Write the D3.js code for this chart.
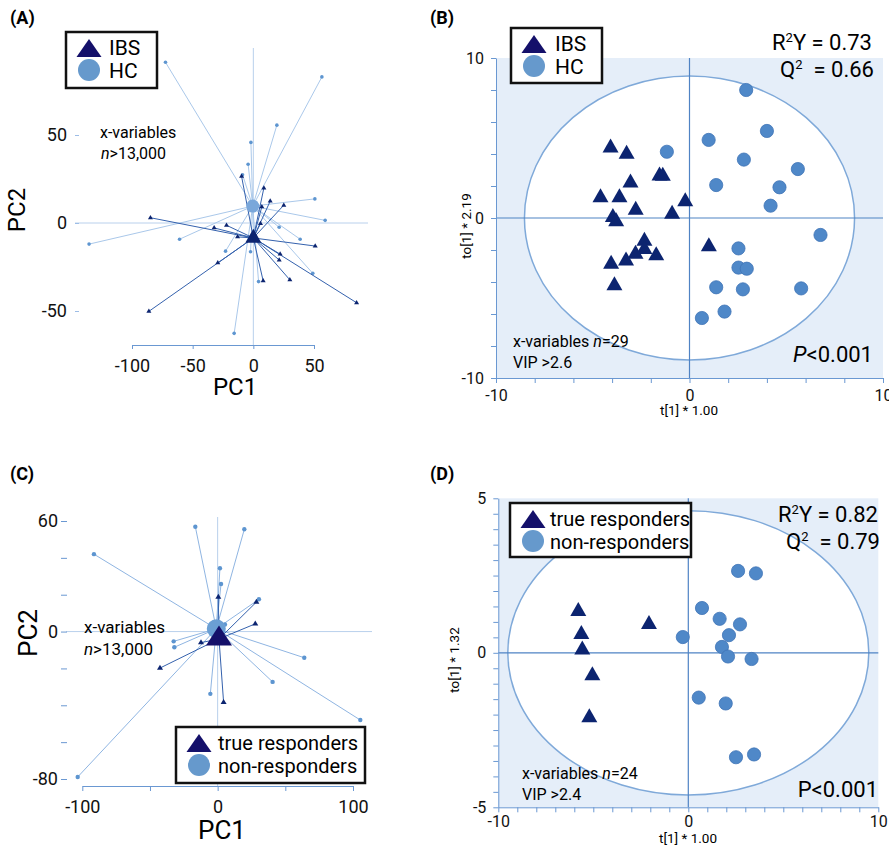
<!DOCTYPE html>
<html>
<head>
<meta charset="utf-8">
<script src="https://cdn.jsdelivr.net/npm/d3@7"></script>
<style>
  body { margin: 0; background: #fff; }
  svg { font-family: Roboto, "Noto Sans", sans-serif; }
</style>
</head>
<body>
<div id="wrapper"></div>
<script>
// ---- panel A: PCA scores, IBS vs HC (x = PC1, y = PC2)
const ibsA = [[-9.7,26.5],[8.7,19.9],[13.9,12.4],[25.1,10.1],[7,9.2],[5.9,-0.4],[-84.8,3],
  [-22.1,-1.3],[-32.3,-2.8],[-13,-7.9],[51,-13.1],[22.1,-17.7],[21.3,-21],[-29.3,-22.7],
  [30.1,-32.3],[8.1,-32.9],[85.1,-45.3],[-86.1,-50.2]]
const hcA = [[-72.4,91.3],[56.5,83],[19.4,55.6],[-2,45.8],[-4.3,33.4],[-8.9,27.4],[50.7,13.7],
  [59.2,1.5],[21.3,-2.4],[38.6,-9.2],[-60.8,-9.2],[-135.4,-12],[-22.9,-16],[-2.3,-16.3],
  [49,-28.6],[4.3,-33.3],[-15.8,-62.7]]
const ibsCentA = [0, -8.5]
const hcCentA = [-0.5, 9.6]

// ---- panel B: OPLS-DA scores, IBS vs HC (x = t[1], y = to[1])
const ibsB = [[-4.08,4.39],[-3.25,4.0],[-3.05,2.2],[-1.55,2.64],[-1.38,2.62],[-4.6,1.27],
  [-3.62,1.27],[-0.22,1.02],[-2.78,0.5],[-0.9,0.25],[-3.96,0.04],[-3.79,-0.23],[-2.33,-1.44],
  [-2.33,-1.96],[-2.79,-2.25],[-1.72,-2.35],[-4.05,-2.88],[-3.28,-2.67],[-3.88,-4.23],[1.0,-1.79]]
const hcB = [[2.93,8.0],[4.0,5.44],[0.99,4.88],[-1.17,4.14],[2.81,3.65],[5.6,3.06],[1.38,2.06],
  [4.65,1.92],[4.19,0.77],[6.77,-1.06],[2.53,-1.9],[2.53,-3.1],[2.96,-3.17],[1.38,-4.33],
  [2.76,-4.46],[5.77,-4.4],[1.81,-5.85],[0.64,-6.25]]
const ellipseB = [8.53, 8.87]

// ---- panel C: PCA scores, true responders vs non-responders
const respC = [[0.5,18.7],[28.6,16],[27.8,4.2],[-12.3,-6],[-42.6,-19.8],[4.4,-38.4]]
const nonC = [[-16.5,56.9],[19.7,55.5],[-91.4,42],[1.7,34.4],[2.5,25.8],[30.5,17.5],[5.4,3.8],
  [-32.5,-5.3],[-32,-8.5],[64,-14.2],[40.6,-27.3],[-5.4,-33.8],[105.4,-48],[-103.4,-78.9]]
const respCentC = [1, -4]
const nonCentC = [-1, 1.5]

// ---- panel D: OPLS-DA scores, true responders vs non-responders
const respD = [[-5.79,1.34],[-5.63,0.6],[-5.58,0.1],[-5.05,-0.74],[-5.21,-2.1],[-2.07,0.92]]
const nonD = [[2.62,2.65],[3.56,2.57],[0.72,1.45],[1.65,1.1],[2.72,0.92],[-0.29,0.51],[2.14,0.57],
  [1.77,0.19],[2.09,-0.12],[3.33,-0.2],[0.55,-1.45],[1.97,-1.64],[2.51,-3.38],[3.46,-3.29]]
const ellipseD = [9.5, 4.6]

// tick labels
const ticksAx = [-100, -50, 0, 50]
const ticksAy = [-50, 0, 50]
const ticksCx = [-100, -50, 0, 50, 100]
const labelsCx = [-100, 0, 100]
const ticksCy = d3.range(-80, 61, 20)
const labelsCy = [60, 0, -80]

const navy = "#0c2470"
const navyDark = "#14106a"
const dotBlue = "#4f88c8"
const pcaLight = "#aac8ea"
const pcaDark = "#3461ad"
const axisBlue = "#6a98d2"

const svg = d3.select("#wrapper")
  .append("svg")
    .attr("width", 889)
    .attr("height", 848)

// triangle centred on its centroid
const tri = (cx, cy, w, h) =>
  `M${cx - w / 2},${cy + h / 3}L${cx + w / 2},${cy + h / 3}L${cx},${cy - 2 * h / 3}Z`

// plain hyphen minus like the original, only some ticks labelled
const fmt = (vals) => d => (!vals || vals.includes(d)) ? String(d) : ""

function styleAxis(g, size) {
  g.selectAll("path").attr("stroke", axisBlue)
  g.selectAll("line").attr("stroke", axisBlue)
  g.selectAll("text").attr("fill", "#111").style("font-size", size + "px")
    .style("font-family", "Roboto, sans-serif")
}

function label(txt, x, y) {
  svg.append("text").attr("x", x).attr("y", y)
    .style("font-size", "18px").style("font-weight", "bold").text(txt)
}

function legend(x, y, w, h, names, fs, tx) {
  const g = svg.append("g")
  g.append("rect").attr("x", x).attr("y", y).attr("width", w).attr("height", h)
    .attr("fill", "#fff").attr("stroke", "#111").attr("stroke-width", 2.5)
  g.append("path").attr("d", tri(x + 23, y + 19, 25, 18)).attr("fill", navyDark)
  g.append("circle").attr("cx", x + 23).attr("cy", y + 38).attr("r", 11).attr("fill", "#6699cc")
  g.append("text").attr("x", x + tx).attr("y", y + 23).style("font-size", fs + "px").text(names[0])
  g.append("text").attr("x", x + tx).attr("y", y + 46).style("font-size", fs + "px").text(names[1])
}

function star(x, y, cent, pts, color, shape, sz) {
  const g = svg.append("g")
  g.selectAll("line").data(pts).join("line")
    .attr("x1", x(cent[0])).attr("y1", y(cent[1]))
    .attr("x2", d => x(d[0])).attr("y2", d => y(d[1]))
    .attr("stroke", color).attr("stroke-width", 1)
  if (shape === "tri") {
    g.selectAll("path").data(pts).join("path")
      .attr("d", d => tri(x(d[0]), y(d[1]), sz, sz * 0.85)).attr("fill", navy)
  } else {
    g.selectAll("circle").data(pts).join("circle")
      .attr("cx", d => x(d[0])).attr("cy", d => y(d[1])).attr("r", sz).attr("fill", "#5d95d0")
  }
}

function stats(xr, yr, r2, q2) {
  const r = svg.append("text").attr("x", xr).attr("y", yr).attr("text-anchor", "end")
    .style("font-size", "22px")
  r.append("tspan").text("R")
  r.append("tspan").attr("dy", -8).style("font-size", "13px").text("2")
  r.append("tspan").attr("dy", 8).text("Y = " + r2)
  const q = svg.append("text").attr("x", xr + 2).attr("y", yr + 27).attr("text-anchor", "end")
    .style("font-size", "22px")
  q.append("tspan").text("Q")
  q.append("tspan").attr("dy", -8).style("font-size", "13px").text("2")
  q.append("tspan").attr("dy", 8).attr("dx", 11).text("= " + q2)
}

// ================= panel A
{
  const x = d3.scaleLinear().domain([-100, 50]).range([132, 314])
  const y = d3.scaleLinear().domain([-50, 50]).range([311, 135])
  svg.append("line").attr("x1", x(0)).attr("x2", x(0)).attr("y1", 48).attr("y2", 345)
    .attr("stroke", "#b9d0ec")
  svg.append("line").attr("x1", 75).attr("x2", 368).attr("y1", y(0)).attr("y2", y(0))
    .attr("stroke", "#b9d0ec")
  star(x, y, hcCentA, hcA, pcaLight, "circ", 1.8)
  star(x, y, ibsCentA, ibsA, pcaDark, "tri", 5)
  svg.append("circle").attr("cx", x(hcCentA[0])).attr("cy", y(hcCentA[1])).attr("r", 6.5)
    .attr("fill", "#7aa7da")
  svg.append("path").attr("d", tri(x(ibsCentA[0]), y(ibsCentA[1]), 16, 14)).attr("fill", navy)

  const ya = svg.append("g").attr("transform", "translate(79,0)")
    .call(d3.axisLeft(y).tickValues(ticksAy).tickFormat(fmt()).tickSize(4).tickPadding(8))
  ya.select(".domain").remove()
  styleAxis(ya, 18)
  ya.selectAll("line").attr("stroke", "#9dbde6")
  const xa = svg.append("g").attr("transform", "translate(0,345)")
    .call(d3.axisBottom(x).tickValues(ticksAx).tickFormat(fmt()).tickSize(4).tickSizeOuter(0)
      .tickPadding(10))
  styleAxis(xa, 18)

  svg.append("text").attr("transform", "translate(25,210) rotate(-90)")
    .attr("text-anchor", "middle").style("font-size", "24px").text("PC2")
  svg.append("text").attr("x", 235).attr("y", 395)
    .attr("text-anchor", "middle").style("font-size", "24px").text("PC1")
  svg.append("text").attr("x", 100).attr("y", 138).style("font-size", "16px").text("x-variables")
  const t = svg.append("text").attr("x", 101).attr("y", 159).style("font-size", "16px")
  t.append("tspan").style("font-style", "italic").text("n")
  t.append("tspan").text(">13,000")
  legend(66, 32, 91, 56, ["IBS", "HC"], 21, 43)
  label("(A)", 10, 24)
}

// OPLS panel
function oplsPanel(x, y, yt, ell, triPts, dotPts) {
  const [x0, x1] = x.domain(), [y0, y1] = y.domain()
  svg.append("rect").attr("x", x(x0)).attr("y", y(y1))
    .attr("width", x(x1) - x(x0)).attr("height", y(y0) - y(y1)).attr("fill", "#e5eef9")
  svg.append("ellipse").attr("cx", x(0)).attr("cy", y(0))
    .attr("rx", x(ell[0]) - x(0)).attr("ry", y(0) - y(ell[1]))
    .attr("fill", "#fff").attr("stroke", "#7fa9d9").attr("stroke-width", 1.5)
  svg.append("line").attr("x1", x(0)).attr("x2", x(0)).attr("y1", y(y1)).attr("y2", y(y0))
    .attr("stroke", "#4f83c4").attr("stroke-width", 1.2)
  svg.append("line").attr("x1", x(x0)).attr("x2", x(x1)).attr("y1", y(0)).attr("y2", y(0))
    .attr("stroke", "#4f83c4").attr("stroke-width", 1.2)
  svg.append("g").selectAll("circle").data(dotPts).join("circle")
    .attr("cx", d => x(d[0])).attr("cy", d => y(d[1])).attr("r", 6.6)
    .attr("fill", dotBlue).attr("stroke", "#3f74b6").attr("stroke-width", 0.8)
  svg.append("g").selectAll("path").data(triPts).join("path")
    .attr("d", d => tri(x(d[0]), y(d[1]), 16, 14)).attr("fill", navy)
  const ya = svg.append("g").attr("transform", `translate(${x(x0)},0)`)
    .call(d3.axisLeft(y).tickValues(yt).tickFormat(fmt([y0, 0, y1])).tickSize(5)
      .tickSizeOuter(0).tickPadding(7))
  styleAxis(ya, 16)
}

// ================= panel B
{
  const x = d3.scaleLinear().domain([-10, 10]).range([496, 883])
  const y = d3.scaleLinear().domain([-10, 10]).range([378, 58])
  oplsPanel(x, y, d3.range(-10, 11, 2), ellipseB, ibsB, hcB)
  const xa = svg.append("g").attr("transform", "translate(0,378)")
    .call(d3.axisBottom(x).tickValues(d3.range(-10, 11, 2))
      .tickFormat(fmt([-10, 0, 10])).tickSize(5).tickSizeOuter(0).tickPadding(7))
  styleAxis(xa, 16)
  svg.append("text").attr("transform", "translate(471,226) rotate(-90)")
    .attr("text-anchor", "middle").style("font-size", "13.5px").text("to[1] * 2.19")
  svg.append("text").attr("x", 689).attr("y", 415)
    .attr("text-anchor", "middle").style("font-size", "13.5px").text("t[1] * 1.00")

  stats(872, 50, "0.73", "0.66")

  const t = svg.append("text").attr("x", 513).attr("y", 347).style("font-size", "16px")
  t.append("tspan").text("x-variables ")
  t.append("tspan").style("font-style", "italic").text("n")
  t.append("tspan").text("=29")
  svg.append("text").attr("x", 513).attr("y", 368).style("font-size", "16px").text("VIP >2.6")
  const p = svg.append("text").attr("x", 873).attr("y", 362).attr("text-anchor", "end")
    .style("font-size", "22px")
  p.append("tspan").style("font-style", "italic").text("P")
  p.append("tspan").text("<0.001")
  legend(511, 28, 91, 55, ["IBS", "HC"], 21, 44)
  label("(B)", 430, 24)
}

// ================= panel C
{
  const x = d3.scaleLinear().domain([-100, 100]).range([82.3, 353])
  const y = d3.scaleLinear().domain([-80, 60]).range([779, 521])
  svg.append("line").attr("x1", x(0)).attr("x2", x(0)).attr("y1", 517).attr("y2", 786)
    .attr("stroke", "#b9d0ec")
  svg.append("line").attr("x1", 66).attr("x2", 372).attr("y1", y(0)).attr("y2", y(0))
    .attr("stroke", "#b9d0ec")
  star(x, y, nonCentC, nonC, "#8fb5e2", "circ", 2.2)
  star(x, y, respCentC, respC, pcaDark, "tri", 6)
  svg.append("circle").attr("cx", x(nonCentC[0])).attr("cy", y(nonCentC[1])).attr("r", 9.5)
    .attr("fill", "#6b9fd4")
  svg.append("path").attr("d", tri(x(respCentC[0]), y(respCentC[1]), 26, 20)).attr("fill", navyDark)

  const ya = svg.append("g").attr("transform", "translate(67,0)")
    .call(d3.axisLeft(y).tickValues(ticksCy).tickFormat(fmt(labelsCy))
      .tickSize(6).tickPadding(3))
  ya.select(".domain").remove()
  styleAxis(ya, 18)
  const xa = svg.append("g").attr("transform", "translate(0,786)")
    .call(d3.axisBottom(x).tickValues(ticksCx).tickFormat(fmt(labelsCx))
      .tickSize(5).tickSizeOuter(0).tickPadding(9))
  styleAxis(xa, 18)

  svg.append("text").attr("transform", "translate(37,633) rotate(-90)")
    .attr("text-anchor", "middle").style("font-size", "26px").text("PC2")
  svg.append("text").attr("x", 222).attr("y", 839)
    .attr("text-anchor", "middle").style("font-size", "26px").text("PC1")
  svg.append("text").attr("x", 84).attr("y", 633).style("font-size", "17px").text("x-variables")
  const t = svg.append("text").attr("x", 84).attr("y", 655).style("font-size", "17px")
  t.append("tspan").style("font-style", "italic").text("n")
  t.append("tspan").text(">13,000")
  legend(176, 727, 189, 56, ["true responders", "non-responders"], 20, 42)
  label("(C)", 10, 480)
}

// ================= panel D
{
  const x = d3.scaleLinear().domain([-10, 10]).range([498.3, 878.3])
  const y = d3.scaleLinear().domain([-5, 5]).range([807.3, 498.3])
  oplsPanel(x, y, d3.range(-5, 5.01, 0.5), ellipseD, respD, nonD)
  const xa = svg.append("g").attr("transform", "translate(0,807.3)")
    .call(d3.axisBottom(x).tickValues(d3.range(-10, 11, 1))
      .tickFormat(fmt([-10, 0, 10])).tickSize(5).tickSizeOuter(0).tickPadding(3))
  styleAxis(xa, 16)
  svg.append("text").attr("transform", "translate(459,660) rotate(-90)")
    .attr("text-anchor", "middle").style("font-size", "13.5px").text("to[1] * 1.32")
  svg.append("text").attr("x", 688).attr("y", 843)
    .attr("text-anchor", "middle").style("font-size", "13.5px").text("t[1] * 1.00")

  stats(878, 522, "0.82", "0.79")

  const t = svg.append("text").attr("x", 522).attr("y", 779).style("font-size", "16px")
  t.append("tspan").text("x-variables ")
  t.append("tspan").style("font-style", "italic").text("n")
  t.append("tspan").text("=24")
  svg.append("text").attr("x", 522).attr("y", 800).style("font-size", "16px").text("VIP >2.4")
  svg.append("text").attr("x", 878).attr("y", 797).attr("text-anchor", "end")
    .style("font-size", "22px").text("P<0.001")
  legend(510, 503, 181, 54, ["true responders", "non-responders"], 20, 40)
  label("(D)", 430, 480)
}
</script>
</body>
</html>
